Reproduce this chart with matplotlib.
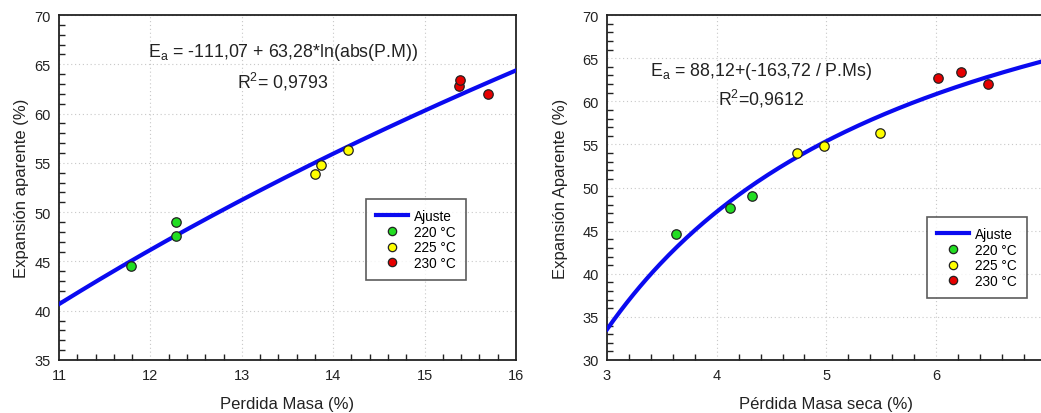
import numpy as np
import matplotlib
matplotlib.use("Agg")
import matplotlib.pyplot as plt
from matplotlib.ticker import MultipleLocator
from matplotlib.lines import Line2D

plt.rcParams['font.family'] = ['Liberation Sans', 'DejaVu Sans']

# ---- Left panel data ----
pm_220 = [11.79, 12.28, 12.28]
ea_220_l = [44.5, 49.0, 47.6]
pm_225 = [13.80, 13.87, 14.16]
ea_225_l = [53.9, 54.8, 56.3]
pm_230 = [15.38, 15.39, 15.69]
ea_230_l = [62.75, 63.4, 62.0]
fit_left_a = -111.07
fit_left_b = 63.28

# ---- Right panel data ----
pms_220 = [3.63, 4.12, 4.32]
ea_220_r = [44.57, 47.62, 49.0]
pms_225 = [4.73, 4.98, 5.49]
ea_225_r = [53.96, 54.81, 56.36]
pms_230 = [6.02, 6.23, 6.47]
ea_230_r = [62.73, 63.39, 62.0]
fit_right_a = 88.12
fit_right_b = -163.72

legend_labels = ['Ajuste', '220 °C', '225 °C', '230 °C']
col_220 = '#22dd22'
col_225 = '#ffff00'
col_230 = '#e60000'
blue = '#0a0af0'

W, H = 1041, 414
fig = plt.figure(figsize=(W/100, H/100), dpi=100)

def px_axes(x0, y0, x1, y1):
    return fig.add_axes([x0/W, 1 - y1/H, (x1-x0)/W, (y1-y0)/H])

def style(ax):
    for s in ax.spines.values():
        s.set_linewidth(1.3)
        s.set_color('#222222')
    ax.tick_params(which='both', direction='in', top=False, right=False,
                   labelsize=10.5, colors='#222222', pad=6)
    ax.tick_params(which='major', length=0)
    ax.tick_params(which='minor', length=4, width=1)
    ax.grid(True, which='major', linestyle=(0, (1, 2.5)), color='#c8c8c8', linewidth=0.8)
    ax.set_axisbelow(True)

def scatter_all(ax, xs, ys):
    for x, y, c in zip(xs, ys, [col_220, col_225, col_230]):
        ax.plot(x, y, 'o', ms=6.8, mfc=c, mec='#222222', mew=0.9, zorder=4, clip_on=False)

def legend(ax, loc):
    handles = [Line2D([], [], color=blue, lw=3.0)]
    for c in [col_220, col_225, col_230]:
        handles.append(Line2D([], [], marker='o', ls='none', ms=6, mfc=c, mec='#222222', mew=0.9))
    leg = ax.legend(handles, legend_labels, loc='upper left', bbox_to_anchor=loc,
                    fontsize=9.8, frameon=True, fancybox=False, edgecolor='#333333',
                    handlelength=2.3, handletextpad=0.45, labelspacing=0.12,
                    borderpad=0.75, borderaxespad=0)
    leg.get_frame().set_linewidth(1.2)

# ---- Left axes ----
ax1 = px_axes(59, 16, 516, 361)
style(ax1)
ax1.set_xlim(11, 16)
ax1.set_ylim(35, 70)
ax1.xaxis.set_major_locator(MultipleLocator(1))
ax1.xaxis.set_minor_locator(MultipleLocator(0.2))
ax1.yaxis.set_major_locator(MultipleLocator(5))
ax1.yaxis.set_minor_locator(MultipleLocator(1))
xf = np.linspace(11, 16, 200)
ax1.plot(xf, fit_left_a + fit_left_b*np.log(np.abs(xf)), color=blue, lw=3.0, zorder=3)
scatter_all(ax1, [pm_220, pm_225, pm_230], [ea_220_l, ea_225_l, ea_230_l])
ax1.set_xlabel('Perdida Masa (%)', fontsize=12, color='#222222', labelpad=10)
ax1.set_ylabel('Expansión aparente (%)', fontsize=12, color='#222222', labelpad=4)
ax1.text(0.49, 0.893, r'E$_\mathregular{a}$ = -111,07 + 63,28*ln(abs(P.M))', transform=ax1.transAxes,
         ha='center', va='center', fontsize=12.8, color='#222222')
ax1.text(0.49, 0.81, r'R$^\mathregular{2}$= 0,9793', transform=ax1.transAxes,
         ha='center', va='center', fontsize=12.8, color='#222222')
legend(ax1, ((366-59)/457, (361-200)/345))

# ---- Right axes ----
aw = 4*109.7
ax2 = px_axes(607, 16, 607 + aw, 361)
style(ax2)
ax2.set_xlim(3, 7)
ax2.set_ylim(30, 70)
ax2.xaxis.set_major_locator(MultipleLocator(1))
ax2.xaxis.set_minor_locator(MultipleLocator(0.2))
ax2.yaxis.set_major_locator(MultipleLocator(5))
ax2.yaxis.set_minor_locator(MultipleLocator(1))
ax2.set_xticks([3, 4, 5, 6])
xf2 = np.linspace(3, 7, 200)
ax2.plot(xf2, fit_right_a + fit_right_b/xf2, color=blue, lw=3.0, zorder=3)
scatter_all(ax2, [pms_220, pms_225, pms_230], [ea_220_r, ea_225_r, ea_230_r])
ax2.set_xlabel('Pérdida Masa seca (%)', fontsize=12, color='#222222', labelpad=10)
ax2.set_ylabel('Expansión Aparente (%)', fontsize=12, color='#222222', labelpad=10)
ax2.text((761-607)/aw, (361-71)/345, r'E$_\mathregular{a}$ = 88,12+(-163,72 / P.Ms)', transform=ax2.transAxes,
         ha='center', va='center', fontsize=12.8, color='#222222')
ax2.text((761-607)/aw, (361-99)/345, r'R$^\mathregular{2}$=0,9612', transform=ax2.transAxes,
         ha='center', va='center', fontsize=12.8, color='#222222')
legend(ax2, ((927-607)/aw, (361-218)/345))

fig.savefig('out.png', dpi=100)
